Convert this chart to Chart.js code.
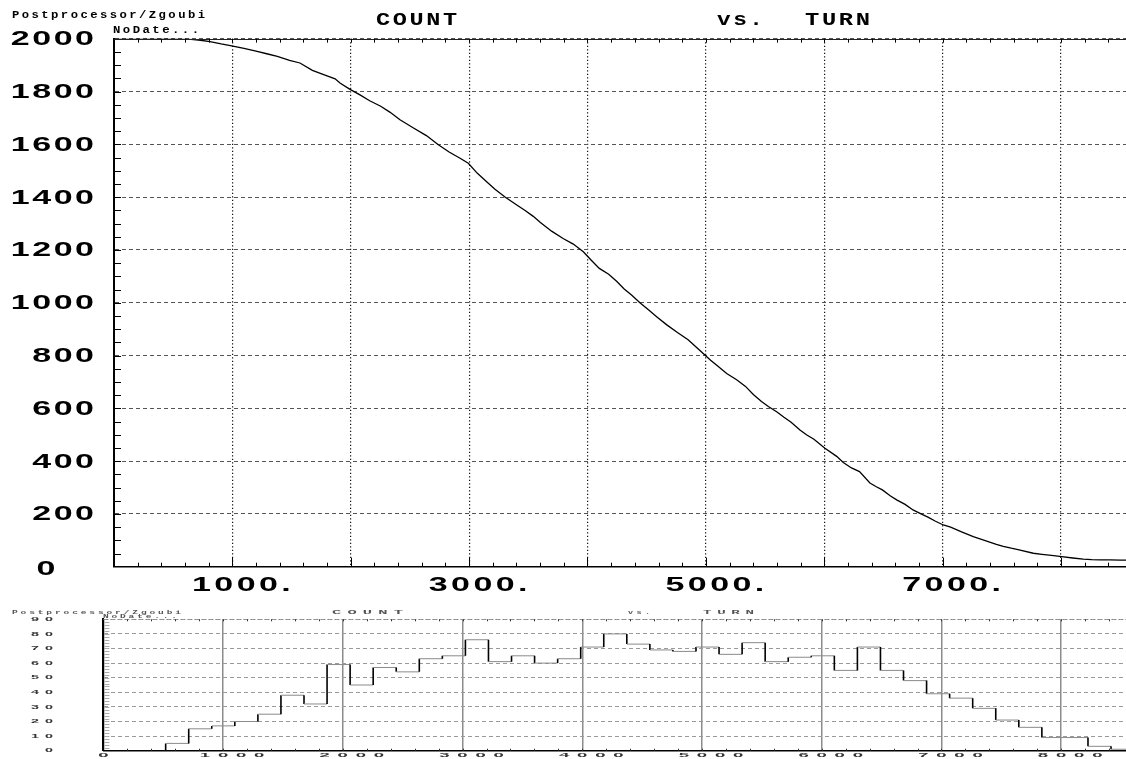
<!DOCTYPE html>
<html>
<head>
<meta charset="utf-8">
<title>COUNT vs. TURN</title>
<script src="https://cdn.jsdelivr.net/npm/chart.js@4.4.1/dist/chart.umd.min.js"></script>
<style>
  html, body { margin: 0; padding: 0; background: #fff; overflow: hidden; width: 1126px; height: 759px; }
  canvas { position: absolute; left: 0; }
  #survival { top: 0; }
  #losses { top: 600px; }
</style>
</head>
<body>
<canvas id="survival" width="1132" height="600" style="width:1132px;height:600px"></canvas>
<canvas id="losses" width="1133" height="159" style="width:1133px;height:159px"></canvas>
<script>
// Surviving particle count versus turn number
const curveTurns = [0, 520, 610, 713, 811, 905, 994, 1098, 1200, 1290, 1380, 1483, 1571, 1676, 1760, 1868,
  1909, 1994, 2078, 2160, 2253, 2330, 2416, 2530, 2639, 2740, 2831, 2920, 2993, 3070, 3148, 3216, 3303,
  3409, 3470, 3542, 3602, 3700, 3794, 3880, 3965, 4030, 4100, 4179, 4246, 4310, 4372, 4443, 4520, 4584,
  4670, 4757, 4850, 4950, 5040, 5105, 5176, 5260, 5335, 5401, 5470, 5528, 5598, 5660, 5720, 5795, 5850,
  5913, 6006, 6105, 6161, 6230, 6298, 6386, 6440, 6491, 6560, 6612, 6683, 6750, 6809, 6876, 6940, 7006,
  7068, 7160, 7259, 7360, 7454, 7512, 7580, 7646, 7766, 7839, 7920, 8006, 8100, 8188, 8260, 8329, 8416,
  8500, 8600];
const curveCounts = [2000, 2000, 1999, 1995, 1989, 1980, 1973, 1963, 1953, 1943, 1933, 1918, 1908, 1880, 1866, 1848,
  1832, 1808, 1787, 1765, 1744, 1722, 1693, 1662, 1633, 1598, 1571, 1548, 1528, 1490, 1458, 1431, 1400,
  1368, 1350, 1327, 1304, 1270, 1243, 1222, 1193, 1162, 1130, 1108, 1081, 1052, 1029, 1000, 971, 947,
  916, 888, 860, 819, 782, 758, 732, 708, 683, 652, 626, 607, 587, 566, 547, 518, 500,
  483, 449, 418, 395, 374, 360, 317, 303, 291, 268, 253, 236, 215, 202, 188, 172, 158,
  150, 132, 114, 99, 85, 77, 70, 64, 51, 47, 43, 38, 33, 29, 27, 26, 26,
  25, 25];
const topCountTicks = [0, 200, 400, 600, 800, 1000, 1200, 1400, 1600, 1800, 2000];
const turnGrid = [0, 1000, 2000, 3000, 4000, 5000, 6000, 7000, 8000];
const topTurnLabels = [1000, 3000, 5000, 7000];

// Particles lost per turn bin
const histFirstTurn = 520;
const histBinWidth = 192.6;
const lossCounts = [5, 15, 17, 20, 25, 38, 32, 59, 45, 57, 54, 63, 65, 76, 61, 65, 60, 63, 71, 80, 73,
  69, 68, 71, 66, 74, 61, 64, 65, 55, 71, 55, 48, 39, 36, 29, 21, 16, 9, 9, 3, 1];
const bottomCountTicks = [0, 10, 20, 30, 40, 50, 60, 70, 80, 90];
const bottomTurnLabels = [0, 1000, 2000, 3000, 4000, 5000, 6000, 7000, 8000];

const TURN_MAX = 8600;

const fixedTicks = values => scale => { scale.ticks = values.map(v => ({ value: v })); };

// Draw text horizontally stretched, optionally fitted to a given width
function stretchText(ctx, text, x, y, o) {
  ctx.save();
  ctx.font = o.font;
  ctx.fillStyle = o.color || '#000';
  ctx.textBaseline = o.baseline || 'middle';
  ctx.textAlign = 'left';
  const sp = o.spacing || 0;
  if ('letterSpacing' in ctx) ctx.letterSpacing = sp + 'px';
  const w = ctx.measureText(text).width - sp;
  const sx = o.width ? o.width / w : (o.sx || 1);
  let x0 = x;
  if (o.align === 'right') x0 = x - w * sx;
  else if (o.align === 'center') x0 = x - w * sx / 2;
  ctx.translate(x0, y);
  ctx.scale(sx, 1);
  ctx.fillText(text, 0, 0);
  ctx.restore();
}

// ---------- upper panel: COUNT vs. TURN ----------
const survivalDecor = {
  id: 'survivalDecor',
  afterDraw(chart) {
    const { ctx, chartArea: a, scales: { x, y } } = chart;
    ctx.save();
    ctx.strokeStyle = '#222';
    ctx.lineWidth = 1;
    ctx.beginPath();
    ctx.moveTo(a.left, Math.round(a.top) + 0.5);
    ctx.lineTo(a.right, Math.round(a.top) + 0.5);
    ctx.stroke();

    ctx.strokeStyle = '#000';
    ctx.beginPath();
    for (let v = 50; v < 2000; v += 50) {
      const py = Math.round(y.getPixelForValue(v)) + 0.5;
      ctx.moveTo(a.left, py);
      ctx.lineTo(a.left + 7, py);
    }
    for (let t = 200; t < TURN_MAX; t += 200) {
      const px = Math.round(x.getPixelForValue(t)) + 0.5;
      const len = t % 1000 === 0 ? 9 : 4;
      ctx.moveTo(px, a.bottom);
      ctx.lineTo(px, a.bottom - len);
      ctx.moveTo(px, a.top);
      ctx.lineTo(px, a.top + 4);
    }
    ctx.stroke();
    ctx.restore();

    const tickFont = 'bold 20px "Liberation Sans"';
    topCountTicks.forEach(v => {
      const py = y.getPixelForValue(v) + 1;
      if (v === 0) {
        stretchText(ctx, '0', 46, py + 2, { font: tickFont, sx: 1.7, align: 'center' });
      } else {
        stretchText(ctx, String(v), 94, py, { font: tickFont, sx: 1.7, spacing: 1.5, align: 'right' });
      }
    });
    topTurnLabels.forEach(t => {
      const px = x.getPixelForValue(t);
      stretchText(ctx, t + '.', px + 9, 585.5, { font: tickFont, sx: 1.7, spacing: 2, align: 'center' });
    });

    const smallFont = 'bold 10px "Liberation Mono"';
    stretchText(ctx, 'Postprocessor/Zgoubi', 12, 17.5, { font: smallFont, spacing: 2, width: 193, baseline: 'alphabetic' });
    stretchText(ctx, 'NoDate...', 113, 33, { font: smallFont, spacing: 2, width: 86, baseline: 'alphabetic' });
    const titleFont = 'bold 18px "Liberation Mono"';
    stretchText(ctx, 'COUNT', 376, 25, { font: titleFont, spacing: 2, width: 81, baseline: 'alphabetic' });
    stretchText(ctx, 'vs.', 717, 25, { font: titleFont, spacing: 2, width: 46, baseline: 'alphabetic' });
    stretchText(ctx, 'TURN', 805, 25, { font: titleFont, spacing: 2, width: 65, baseline: 'alphabetic' });
  }
};

new Chart(document.getElementById('survival'), {
  type: 'line',
  data: {
    datasets: [{
      data: curveTurns.map((t, i) => ({ x: t, y: curveCounts[i] })),
      borderColor: '#000',
      borderWidth: 1.3,
      pointRadius: 0,
      tension: 0,
      fill: false
    }]
  },
  options: {
    responsive: false,
    animation: false,
    events: [],
    layout: { padding: { left: 0, right: 0, top: 38.7, bottom: 0 } },
    plugins: { legend: { display: false }, tooltip: { enabled: false } },
    scales: {
      x: {
        type: 'linear', min: 0, max: TURN_MAX,
        ticks: { display: false },
        afterBuildTicks: fixedTicks(turnGrid),
        grid: { color: '#111', lineWidth: 1.2, drawTicks: false },
        border: { display: true, color: '#000', width: 1.5, dash: [1.3, 2.2] },
        afterFit(s) { s.height = 600 - 566.7; }
      },
      y: {
        type: 'linear', min: 0, max: 2000,
        ticks: { display: false },
        afterBuildTicks: fixedTicks(topCountTicks),
        grid: { color: '#555', lineWidth: 1, drawTicks: false },
        border: { display: true, color: '#000', width: 2, dash: [4, 3] },
        afterFit(s) { s.width = 114; }
      }
    }
  },
  plugins: [survivalDecor]
});

// ---------- lower panel: losses per bin ----------
const histPoints = [];
lossCounts.forEach((c, i) => {
  const t0 = histFirstTurn + i * histBinWidth;
  const prev = i === 0 ? 0 : lossCounts[i - 1];
  histPoints.push({ x: t0, y: prev }, { x: t0, y: c });
});
histPoints.push({ x: histFirstTurn + lossCounts.length * histBinWidth, y: lossCounts[lossCounts.length - 1] });

const lossesDecor = {
  id: 'lossesDecor',
  afterDraw(chart) {
    const { ctx, chartArea: a, scales: { x, y } } = chart;
    ctx.save();
    ctx.strokeStyle = '#888';
    ctx.lineWidth = 1;
    ctx.setLineDash([1.5, 2]);
    ctx.beginPath();
    ctx.moveTo(a.left, Math.round(a.top) + 0.5);
    ctx.lineTo(a.right, Math.round(a.top) + 0.5);
    ctx.stroke();
    ctx.setLineDash([]);

    ctx.strokeStyle = '#aaa';
    ctx.beginPath();
    for (let v = 2; v < 90; v += 2) {
      const py = Math.round(y.getPixelForValue(v)) + 0.5;
      ctx.moveTo(a.left + 1, py);
      ctx.lineTo(a.left + 6, py);
    }
    ctx.stroke();

    ctx.strokeStyle = '#333';
    ctx.beginPath();
    for (let t = 200; t < TURN_MAX; t += 200) {
      const px = Math.round(x.getPixelForValue(t)) + 0.5;
      ctx.moveTo(px, a.top);
      ctx.lineTo(px, a.top + 2);
      ctx.moveTo(px, a.bottom);
      ctx.lineTo(px, a.bottom - 2);
    }
    ctx.stroke();
    ctx.restore();

    const tickFont = 'bold 6px "Liberation Sans"';
    bottomCountTicks.forEach(v => {
      const py = y.getPixelForValue(v);
      stretchText(ctx, String(v), 53, py, { font: tickFont, sx: 2.4, spacing: 2.5, align: 'right', color: '#333' });
    });
    bottomTurnLabels.forEach(t => {
      const px = x.getPixelForValue(t);
      stretchText(ctx, String(t), t === 0 ? px : px + 9, 155.5, { font: tickFont, sx: 3.1, spacing: 2.5, align: 'center', color: '#333' });
    });

    const tinyFont = 'bold 5px "Liberation Mono"';
    stretchText(ctx, 'Postprocessor/Zgoubi', 12, 14, { font: tinyFont, spacing: 1.5, width: 169, baseline: 'alphabetic', color: '#555' });
    stretchText(ctx, 'NoDate...', 103, 18.3, { font: tinyFont, spacing: 1.5, width: 74, baseline: 'alphabetic', color: '#555' });
    stretchText(ctx, 'COUNT', 332, 14, { font: tinyFont, spacing: 2, width: 71, baseline: 'alphabetic', color: '#555' });
    stretchText(ctx, 'vs.', 628, 14, { font: tinyFont, spacing: 2, width: 22, baseline: 'alphabetic', color: '#555' });
    stretchText(ctx, 'TURN', 703, 14, { font: tinyFont, spacing: 2, width: 51, baseline: 'alphabetic', color: '#555' });
  }
};

const isVertical = c => c.p0.parsed.x === c.p1.parsed.x;

new Chart(document.getElementById('losses'), {
  type: 'line',
  data: {
    datasets: [{
      data: histPoints,
      borderColor: '#111',
      borderWidth: 1,
      pointRadius: 0,
      tension: 0,
      fill: false,
      segment: {
        borderColor: c => isVertical(c) ? '#000' : '#8a8a8a',
        borderWidth: c => isVertical(c) ? 1.6 : 1
      }
    }]
  },
  options: {
    responsive: false,
    animation: false,
    events: [],
    parsing: false,
    layout: { padding: { left: 0, right: 0, top: 19.3, bottom: 0 } },
    plugins: { legend: { display: false }, tooltip: { enabled: false } },
    scales: {
      x: {
        type: 'linear', min: 0, max: TURN_MAX,
        ticks: { display: false },
        afterBuildTicks: fixedTicks(turnGrid),
        grid: { color: '#8c8c8c', lineWidth: 1.5, drawTicks: false },
        border: { display: true, color: '#000', width: 1.5 },
        afterFit(s) { s.height = 159 - 150.7; }
      },
      y: {
        type: 'linear', min: 0, max: 90,
        ticks: { display: false },
        afterBuildTicks: fixedTicks(bottomCountTicks),
        grid: { color: '#9a9a9a', lineWidth: 1, drawTicks: false },
        border: { display: true, color: '#000', width: 2, dash: [4, 3] },
        afterFit(s) { s.width = 103.4; }
      }
    }
  },
  plugins: [lossesDecor]
});
</script>
</body>
</html>
